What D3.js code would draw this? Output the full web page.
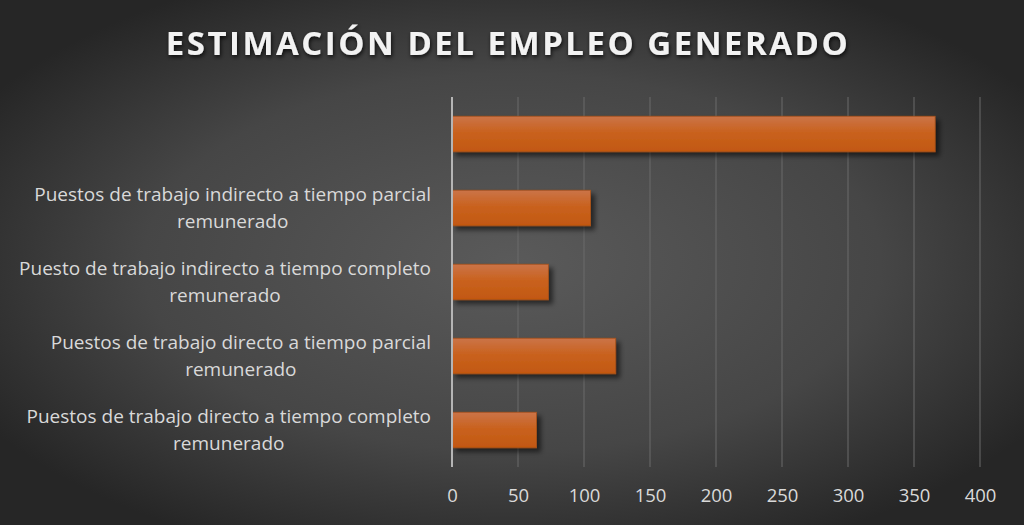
<!DOCTYPE html>
<html><head><meta charset="utf-8">
<script src="https://cdn.jsdelivr.net/npm/d3@7"></script>
<style>html,body{margin:0;padding:0;background:#333;}svg{display:block;}</style>
</head><body>
<script>
const categories = [
  "",
  "Puestos de trabajo indirecto a tiempo parcial remunerado",
  "Puesto de trabajo indirecto a tiempo completo remunerado",
  "Puestos de trabajo directo a tiempo parcial remunerado",
  "Puestos de trabajo directo a tiempo completo remunerado"
];
const labelLines = [
  [],
  ["Puestos de trabajo indirecto a tiempo parcial", "remunerado"],
  ["Puesto de trabajo indirecto a tiempo completo", "remunerado"],
  ["Puestos de trabajo directo a tiempo parcial", "remunerado"],
  ["Puestos de trabajo directo a tiempo completo", "remunerado"]
];
const values = [366, 105, 73, 124, 64];
const xTicks = [0, 50, 100, 150, 200, 250, 300, 350, 400];
const title = "ESTIMACIÓN DEL EMPLEO GENERADO";

const W = 1024, H = 525;
const m = {left: 452, right: 44, top: 97, bottom: 58};
const svg = d3.select("body").append("svg").attr("width", W).attr("height", H);
const defs = svg.append("defs");

const bg = defs.append("radialGradient").attr("id", "bg")
  .attr("cx", "50%").attr("cy", "50%").attr("r", "60%");
bg.append("stop").attr("offset", "0%").attr("stop-color", "#5a5a5a");
bg.append("stop").attr("offset", "60%").attr("stop-color", "#464646");
bg.append("stop").attr("offset", "100%").attr("stop-color", "#262626");
svg.append("rect").attr("width", W).attr("height", H).attr("fill", "url(#bg)");

const barG = defs.append("linearGradient").attr("id", "barg")
  .attr("x1", 0).attr("y1", 0).attr("x2", 0).attr("y2", 1);
barG.append("stop").attr("offset", "0%").attr("stop-color", "#cb7448");
barG.append("stop").attr("offset", "45%").attr("stop-color", "#c9621f");
barG.append("stop").attr("offset", "100%").attr("stop-color", "#c25810");

const sh = defs.append("filter").attr("id", "sh").attr("x", "-10%").attr("y", "-30%").attr("width", "130%").attr("height", "190%");
sh.append("feDropShadow").attr("dx", 4).attr("dy", 4).attr("stdDeviation", 2.5)
  .attr("flood-color", "#000").attr("flood-opacity", 0.55);

const tsh = defs.append("filter").attr("id", "tsh").attr("x", "-5%").attr("y", "-30%").attr("width", "110%").attr("height", "170%");
tsh.append("feDropShadow").attr("dx", 1).attr("dy", 2).attr("stdDeviation", 2)
  .attr("flood-color", "#000").attr("flood-opacity", 0.8);

const x = d3.scaleLinear().domain([0, 400]).range([m.left, W - m.right]);
const y = d3.scaleBand().domain(categories.map((c, i) => i)).range([m.top, H - m.bottom]).paddingInner(0.52).paddingOuter(0.26);

// gridlines
svg.append("g").selectAll("line").data(xTicks.slice(1)).join("line")
  .attr("x1", d => x(d)).attr("x2", d => x(d))
  .attr("y1", m.top).attr("y2", H - m.bottom)
  .attr("stroke", "#6b6b6b").attr("stroke-width", 1);

// bars
svg.append("g").selectAll("rect").data(values).join("rect")
  .attr("x", x(0)).attr("y", (d, i) => y(i))
  .attr("width", d => x(d) - x(0)).attr("height", y.bandwidth())
  .attr("fill", "url(#barg)").attr("stroke", "#a9521a").attr("stroke-width", 0.8)
  .attr("filter", "url(#sh)");

// axis line at 0
svg.append("line").attr("x1", x(0)).attr("x2", x(0)).attr("y1", m.top).attr("y2", H - m.bottom)
  .attr("stroke", "#b5b5b5").attr("stroke-width", 2);

const FONT = "'Open Sans', Lato, sans-serif";
// x axis labels
const xa = svg.append("g").attr("transform", `translate(0,${H - m.bottom})`)
  .call(d3.axisBottom(x).tickValues(xTicks).tickSize(0).tickPadding(22));
xa.select(".domain").remove();
xa.selectAll("text").attr("fill", "#d9d9d9").attr("font-family", FONT).attr("font-size", 18.5);

// category labels
const lab = svg.append("g").attr("font-family", FONT).attr("font-size", 19).attr("fill", "#d9d9d9");
labelLines.forEach((lines, i) => {
  if (!lines.length) return;
  const cy = y(i) + y.bandwidth() / 2;
  const t = lab.append("text").attr("text-anchor", "middle");
  lines.forEach((ln, j) => {
    t.append("tspan").attr("x", 0).attr("y", cy + (j - (lines.length - 1) / 2) * 26.5 + 6.5).text(ln);
  });
  const wmax = d3.max(t.selectAll("tspan").nodes(), n => n.getComputedTextLength());
  t.selectAll("tspan").attr("x", 431 - wmax / 2);
});

// title
svg.append("text").attr("x", 508).attr("y", 55).attr("text-anchor", "middle")
  .attr("font-family", FONT).attr("font-weight", "bold")
  .attr("font-size", 33).attr("letter-spacing", 2.5).attr("fill", "#f2f2f2")
  .attr("filter", "url(#tsh)").text(title);
</script>
</body></html>
